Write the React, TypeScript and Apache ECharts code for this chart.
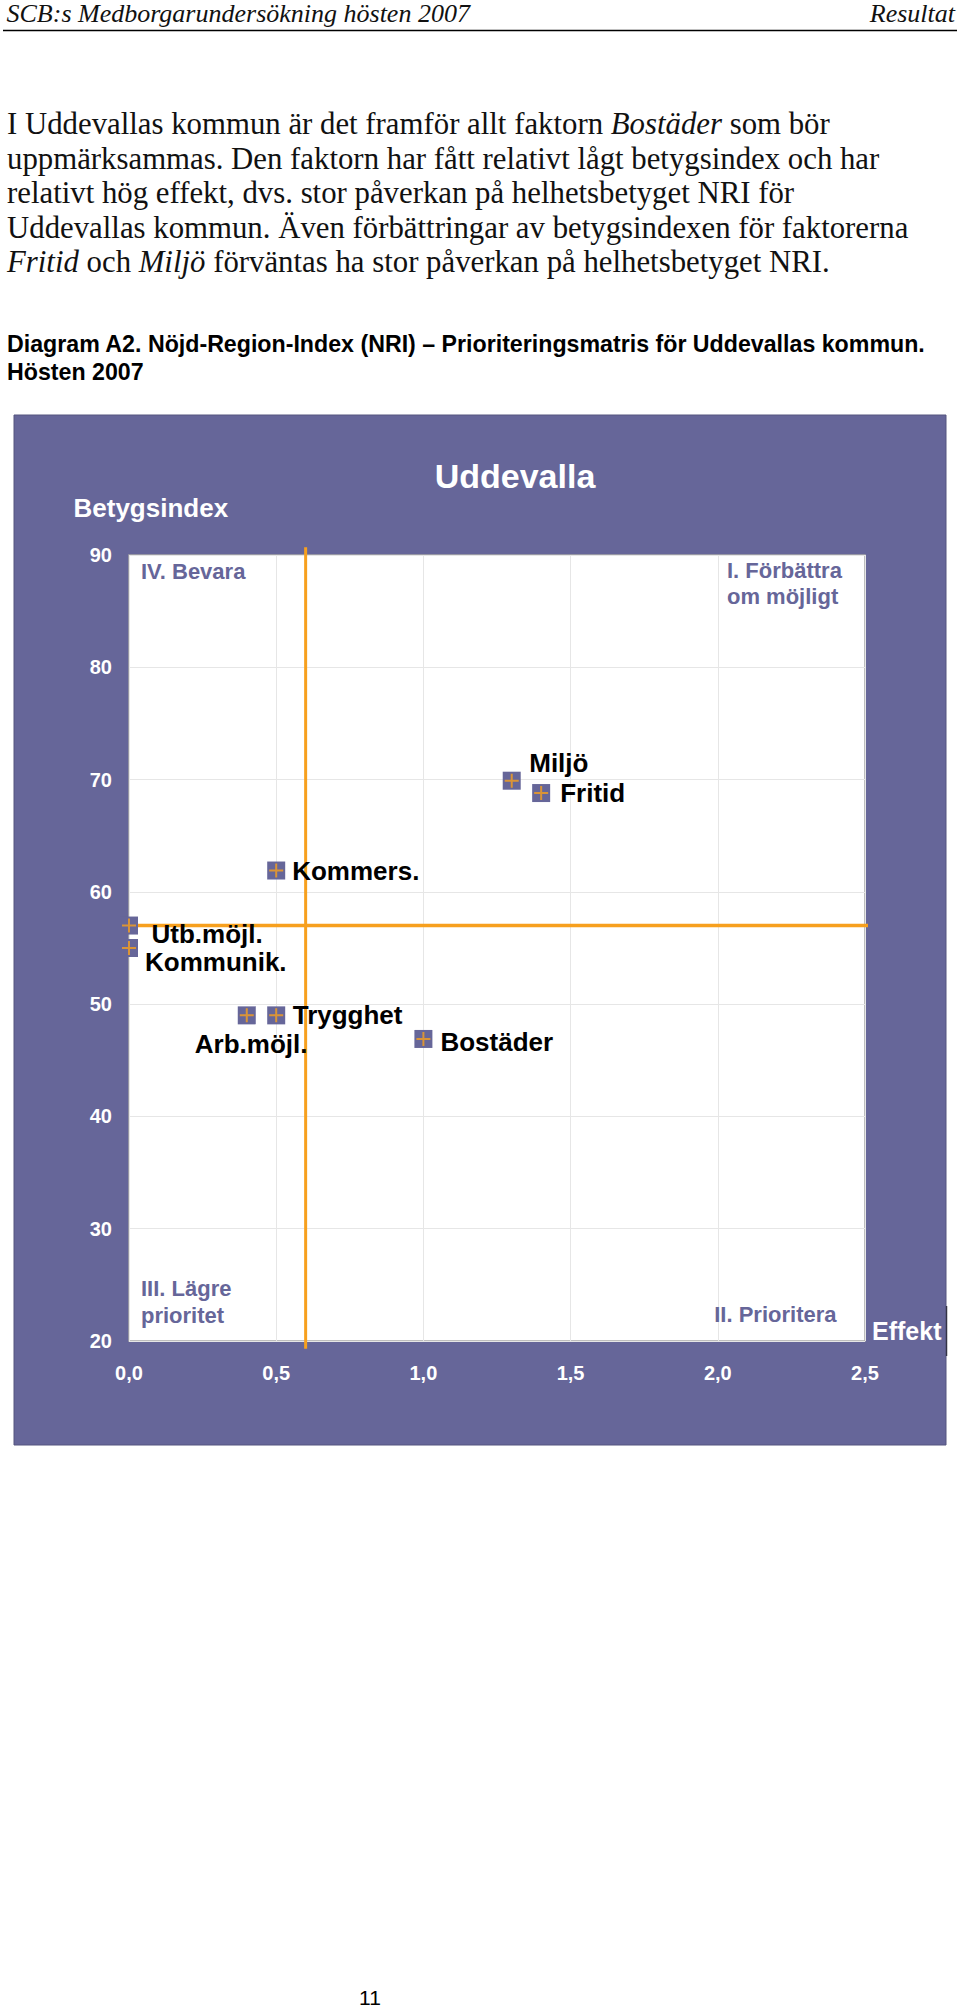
import React, { useEffect, useRef } from 'react';
import * as echarts from 'echarts';

// ---------- data ----------
const factors = ['Miljö', 'Fritid', 'Kommers.', 'Utb.möjl.', 'Kommunik.', 'Arb.möjl.', 'Trygghet', 'Bostäder'];
const effekt = [1.30, 1.40, 0.50, 0.00, 0.00, 0.40, 0.50, 1.00];
const betygsindex = [69.9, 68.8, 61.9, 57.0, 55.0, 49.0, 49.0, 46.9];
const xTickLabels = ['0,0', '0,5', '1,0', '1,5', '2,0', '2,5'];
const yTickLabels = ['20', '30', '40', '50', '60', '70', '80', '90'];
// cross lines (quadrant dividers)
const vLineX = [0.6, 0.6];
const vLineY = [19.3, 90.7];
const hLineX = [0.0, 2.53];
const hLineY = [57.0, 57.0];

// label offsets (px) of each factor label relative to its marker centre
const labelOffsets: [number, number][] = [
  [17.5, -17.5], [19, 0], [16, 0], [22.5, 8], [16, 14], [-52, 28.5], [16.5, 0], [17, 3],
];

const PURPLE = '#666699';
const ORANGE = '#F7A01E';
const SANS = 'Liberation Sans, Arial, sans-serif';
const SERIF = 'Liberation Serif, Times New Roman, serif';
const NB = '\u00A0';

function serifRich(size: number) {
  return {
    n: { fontSize: size, fontFamily: SERIF, fontStyle: 'normal', fontWeight: 'normal', fill: '#111' },
    i: { fontSize: size, fontFamily: SERIF, fontStyle: 'italic', fontWeight: 'normal', fill: '#111' },
  };
}

export default function App() {
  const ref = useRef<HTMLDivElement>(null);
  useEffect(() => {
    if (!ref.current) return;
    const chart = echarts.init(ref.current, undefined, { renderer: 'svg' });
    const PS = 30.8;
    const paraLines = [
      `{n|I Uddevallas kommun är det framför allt faktorn${NB}}{i|Bostäder}{n|${NB}som bör}`,
      '{n|uppmärksammas. Den faktorn har fått relativt lågt betygsindex och har}',
      '{n|relativt hög effekt, dvs. stor påverkan på helhetsbetyget NRI för}',
      '{n|Uddevallas kommun. Även förbättringar av betygsindexen för faktorerna}',
      `{i|Fritid}{n|${NB}och${NB}}{i|Miljö}{n|${NB}förväntas ha stor påverkan på helhetsbetyget NRI.}`,
    ];
    const paraY = [124.2, 158.5, 192.9, 227.5, 261.9];

    const quadStyle = { fill: PURPLE, fontSize: 22, fontWeight: 'bold', fontFamily: SANS, verticalAlign: 'middle' };

    const graphic: any[] = [
      { type: 'rect', z: -100, shape: { x: 14, y: 415, width: 932, height: 1030 }, style: { fill: PURPLE, stroke: '#55557f', lineWidth: 1 } },
      { type: 'text', x: 6.5, y: 13.5, style: { text: 'SCB:s Medborgarundersökning hösten 2007', fill: '#111', fontSize: 26, fontStyle: 'italic', fontFamily: SERIF, verticalAlign: 'middle', align: 'left' } },
      { type: 'text', x: 955, y: 13.5, style: { text: 'Resultat', fill: '#111', fontSize: 26, fontStyle: 'italic', fontFamily: SERIF, verticalAlign: 'middle', align: 'right' } },
      { type: 'line', shape: { x1: 3, y1: 30.5, x2: 957, y2: 30.5 }, style: { stroke: '#000', lineWidth: 1.5 } },
      ...paraLines.map((t, k) => ({
        type: 'text', x: 7, y: paraY[k],
        style: { text: t, rich: serifRich(PS), fontSize: PS, fontFamily: SERIF, verticalAlign: 'middle', align: 'left' },
      })),
      { type: 'text', x: 7, y: 344.3, style: { text: 'Diagram A2. Nöjd-Region-Index (NRI) – Prioriteringsmatris för Uddevallas kommun.', fill: '#000', fontSize: 23.2, fontWeight: 'bold', fontFamily: SANS, verticalAlign: 'middle' } },
      { type: 'text', x: 7, y: 371.5, style: { text: 'Hösten 2007', fill: '#000', fontSize: 23.2, fontWeight: 'bold', fontFamily: SANS, verticalAlign: 'middle' } },
      { type: 'text', x: 515, y: 476, z: 10, style: { text: 'Uddevalla', fill: '#fff', fontSize: 34, fontWeight: 'bold', fontFamily: SANS, align: 'center', verticalAlign: 'middle' } },
      { type: 'text', x: 73.5, y: 507.5, z: 10, style: { text: 'Betygsindex', fill: '#fff', fontSize: 26, fontWeight: 'bold', fontFamily: SANS, align: 'left', verticalAlign: 'middle' } },
      { type: 'text', x: 141, y: 571.7, z: 10, style: { text: 'IV. Bevara', ...quadStyle, align: 'left' } },
      { type: 'text', x: 727, y: 570, z: 10, style: { text: 'I. Förbättra', ...quadStyle, align: 'left' } },
      { type: 'text', x: 727, y: 596.5, z: 10, style: { text: 'om möjligt', ...quadStyle, align: 'left' } },
      { type: 'text', x: 141, y: 1288, z: 10, style: { text: 'III. Lägre', ...quadStyle, align: 'left' } },
      { type: 'text', x: 141, y: 1315, z: 10, style: { text: 'prioritet', ...quadStyle, align: 'left' } },
      { type: 'text', x: 836.5, y: 1314, z: 10, style: { text: 'II. Prioritera', ...quadStyle, align: 'right' } },
      { type: 'rect', z: 10, shape: { x: 866, y: 1306, width: 80, height: 50 }, style: { fill: PURPLE } },
      { type: 'line', z: 11, shape: { x1: 946.5, y1: 1306, x2: 946.5, y2: 1356 }, style: { stroke: '#333344', lineWidth: 1.5 } },
      { type: 'text', x: 872, y: 1331, z: 12, style: { text: 'Effekt', fill: '#fff', fontSize: 25, fontWeight: 'bold', fontFamily: SANS, align: 'left', verticalAlign: 'middle' } },
      { type: 'text', x: 370, y: 1997.5, style: { text: '11', fill: '#000', fontSize: 21, fontFamily: SANS, align: 'center', verticalAlign: 'middle' } },
    ];

    const pointData = factors.map((f, i) => ({
      name: f,
      value: [effekt[i], betygsindex[i]],
      label: { position: [9 + labelOffsets[i][0], 9 + labelOffsets[i][1]] },
    }));

    const option: any = {
      animation: false,
      backgroundColor: '#ffffff',
      textStyle: { fontFamily: SANS },
      grid: {
        left: 129, top: 555, width: 736, height: 786,
        show: true, backgroundColor: '#ffffff', borderColor: '#a8a8a8', borderWidth: 1.5,
      },
      xAxis: {
        type: 'value', min: 0, max: 2.5, interval: 0.5,
        axisLine: { show: false }, axisTick: { show: false },
        splitLine: { show: true, lineStyle: { color: '#e6e6e6', width: 1 } },
        axisLabel: {
          color: '#fff', fontWeight: 'bold', fontSize: 20, fontFamily: SANS, margin: 22,
          formatter: (v: number) => xTickLabels[Math.round(v / 0.5)],
        },
      },
      yAxis: {
        type: 'value', min: 20, max: 90, interval: 10,
        axisLine: { show: false }, axisTick: { show: false },
        splitLine: { show: true, lineStyle: { color: '#e6e6e6', width: 1 } },
        axisLabel: {
          color: '#fff', fontWeight: 'bold', fontSize: 20, fontFamily: SANS, margin: 17,
          formatter: (v: number) => yTickLabels[Math.round((v - 20) / 10)],
        },
      },
      graphic,
      series: [
        {
          type: 'line', z: 2, clip: false, silent: true, symbol: 'none',
          data: vLineX.map((x, i) => [x, vLineY[i]]),
          lineStyle: { color: ORANGE, width: 3 },
        },
        {
          type: 'line', z: 2, clip: false, silent: true, symbol: 'none',
          data: hLineX.map((x, i) => [x, hLineY[i]]),
          lineStyle: { color: ORANGE, width: 3.5 },
        },
        {
          type: 'scatter', z: 3, clip: false, symbol: 'rect', symbolSize: 18,
          itemStyle: { color: PURPLE, opacity: 1 },
          data: pointData,
          label: {
            show: true, formatter: '{b}', color: '#000', fontWeight: 'bold', fontSize: 26,
            fontFamily: SANS, align: 'left', verticalAlign: 'middle',
          },
          emphasis: { disabled: true },
        },
        {
          type: 'scatter', z: 4, clip: false, symbol: 'path://M0,7L14,7M7,0L7,14', symbolSize: 14,
          itemStyle: { color: 'none', borderColor: ORANGE, borderWidth: 2 },
          data: factors.map((f, i) => [effekt[i], betygsindex[i]]),
          silent: true,
        },
      ],
    };
    chart.setOption(option);
    return () => chart.dispose();
  }, []);
  return <div ref={ref} style={{ position: 'absolute', left: 0, top: 0, width: 960, height: 2014 }} />;
}
